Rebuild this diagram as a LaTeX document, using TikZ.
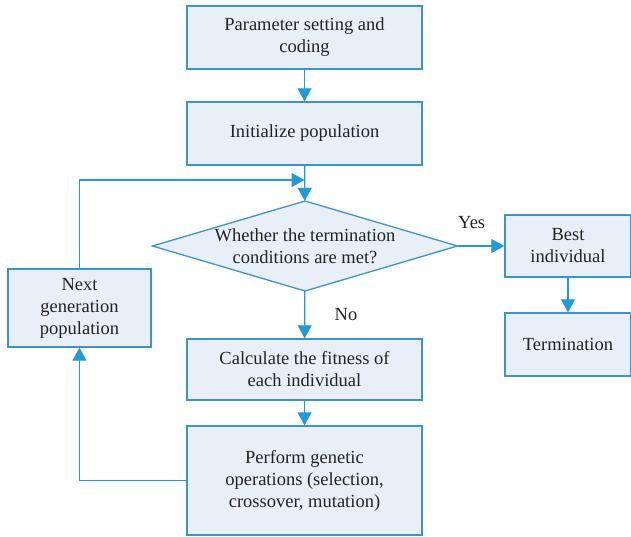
\documentclass[tikz,border=0pt]{standalone}
\usepackage{fontspec}
\setmainfont{Liberation Serif}
\usetikzlibrary{arrows.meta}
\definecolor{lnblue}{RGB}{36,153,214}
\definecolor{bxblue}{RGB}{62,148,200}
\definecolor{bxfill}{RGB}{232,239,248}
\definecolor{txtgray}{RGB}{35,35,35}

\begin{document}
\begin{tikzpicture}[x=1pt,y=-1pt,font=\fontsize{18.5}{22}\selectfont,
  blk/.style={draw=bxblue,fill=bxfill,line width=1.3pt,text=txtgray,align=center,inner sep=0pt},
  arr/.style={draw=lnblue,line width=1.2pt,-{Triangle[length=13pt,width=14pt]}}]
\useasboundingbox (0,0) rectangle (631,537);
% boxes
\node[blk,minimum width=235pt,minimum height=63pt] (param) at (304.5,37.5) {Parameter setting and\\coding};
\node[blk,minimum width=235pt,minimum height=63pt] (init) at (304.5,133.5) {Initialize population};
\path[blk] (152.5,246) -- (305,201) -- (457.5,246) -- (305,291) -- cycle;
\node[align=center,text=txtgray,minimum width=305pt,minimum height=90pt,inner sep=0pt] (cond) at (305,246) {Whether the termination\\conditions are met?};
\node[blk,minimum width=235pt,minimum height=61pt] (calc) at (304.5,369.5) {Calculate the fitness of\\each individual};
\node[blk,minimum width=235pt,minimum height=109pt] (gen) at (304.5,480.5) {Perform genetic\\operations (selection,\\crossover, mutation)};
\node[blk,minimum width=143pt,minimum height=78pt] (next) at (79.5,308) {Next\\generation\\population};
\node[blk,minimum width=126pt,minimum height=62pt] (best) at (568,246) {Best\\individual};
\node[blk,minimum width=126pt,minimum height=63pt] (term) at (568,344.5) {Termination};
\coordinate (merge) at (304.5,180);
% connectors
\draw[arr] (param) -- (init);
\draw[arr] (init) -- (cond);
\draw[arr] (cond) -- node[right=26pt,text=txtgray]{No} (calc);
\draw[arr] (cond) -- node[pos=.3,above=13pt,text=txtgray]{Yes} (best);
\draw[arr] (best) -- (term);
\draw[arr] (calc) -- (gen);
\draw[arr] (gen.west) -| (next.south);
\draw[arr] (next.north) |- (merge);
\end{tikzpicture}
\end{document}
